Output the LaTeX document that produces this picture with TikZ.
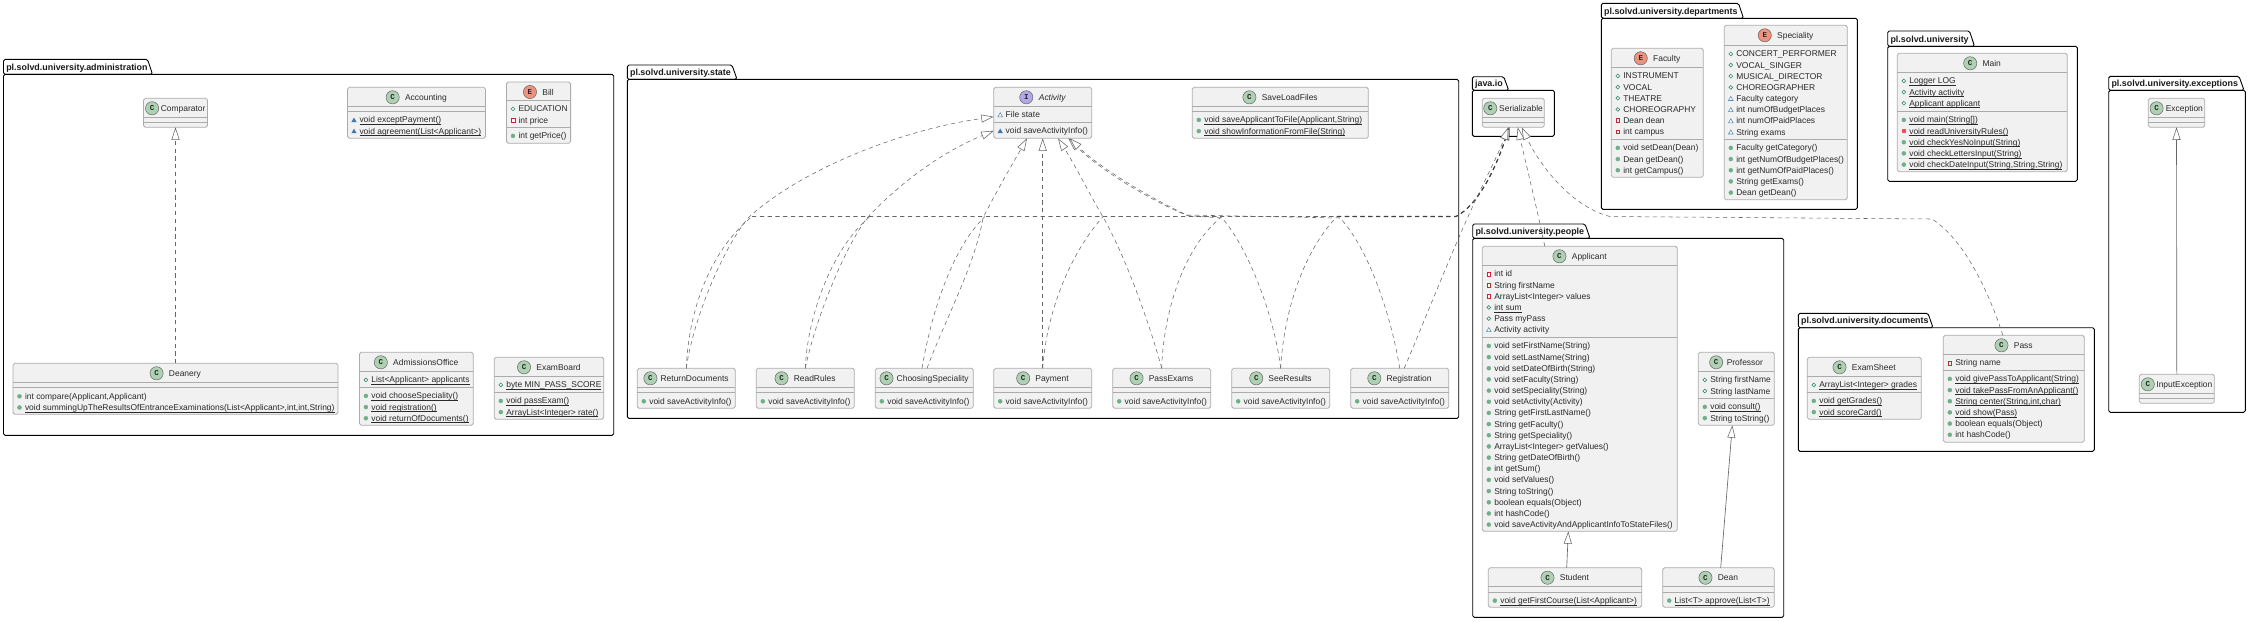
\documentclass[tikz,border=0pt]{standalone}
\usepackage{fontspec}
\setmainfont{Liberation Sans}
\newfontfamily\iconfamily{Liberation Mono}
\usetikzlibrary{arrows.meta}
\definecolor{cfill}{HTML}{F1F1F1}
\definecolor{cline}{HTML}{ABABAB}
\definecolor{ctext}{HTML}{2A2A2A}
\definecolor{cgreen}{HTML}{ADD1B2}
\definecolor{cred}{HTML}{EB937F}
\definecolor{cpurple}{HTML}{B4A7E5}
\definecolor{vgreenA}{HTML}{2E8B62}
\definecolor{vgreenB}{HTML}{6FB085}
\definecolor{vredA}{HTML}{C82930}
\definecolor{vredB}{HTML}{F24D5C}
\definecolor{vblueA}{HTML}{1963A0}
\definecolor{vblueB}{HTML}{4177AF}
\definecolor{cconn}{HTML}{666666}
\newcommand{\rowfont}{\fontsize{8.45}{10}\selectfont\color{ctext}}
\newcommand{\pkgfont}{\fontsize{8.9}{10}\selectfont\bfseries\color{black!90}}
\newcommand{\ulx}[1]{\setbox0\hbox{#1}\rlap{\color{ctext}\vrule width\wd0 height -1.2pt depth 1.6pt}\box0}
\tikzset{
 classbox/.style={draw=cline,fill=cfill,line width=.8pt,rounded corners=1.8pt,inner sep=0pt,outer sep=0pt},
 sepline/.style={draw=cline,line width=.8pt},
 pkgframe/.style={draw=black,line width=.9pt,rounded corners=1.6pt},
 pkglabel/.style={inner sep=0pt,anchor=base west,font=\pkgfont},
 rowlabel/.style={inner sep=0pt,anchor=base west,font=\rowfont},
 titlelabel/.style={inner sep=0pt,anchor=base,font=\rowfont},
 iconcircle/.style={circle,draw=black!60,line width=.5pt,minimum size=13.2pt,inner sep=0pt,text=black!85,font=\iconfamily\bfseries\fontsize{7.5}{8}\selectfont},
 depline/.style={draw=cconn,line width=.55pt,dash pattern=on 4.2pt off 3.6pt},
 dep/.style={depline,-{Triangle[fill=white,length=12.5pt,width=8pt,line width=.55pt,sep=0pt]}},
 gen/.style={draw=cconn,line width=.65pt,-{Triangle[fill=white,length=12.5pt,width=8pt,line width=.55pt]}}
}
\newcommand{\umlpkg}[8]{% name L tabtop bodytop R bottom tabend title
 \draw[pkgframe] (#2,#4) -- (#2,#3) -- (#7,#3) -- (#7+5,#4) -- cycle;
 \draw[pkgframe] (#2,#4) rectangle (#5,#6);
 \node[pkglabel] (#1-label) at (#2+2.6,#4-4.3) {#8};
}
\newcommand{\umlclass}[9]{% name x1 y1 x2 y2 colour letter gap title
 \pgfmathsetmacro{\boxw}{#4-#2}\pgfmathsetmacro{\boxh}{#5-#3}
 \node[classbox,minimum width=\boxw pt,minimum height=\boxh pt,anchor=north west] (#1) at (#2,#3) {};
 \pgfmathsetmacro{\titlec}{(#2+#4)/2+(13.4+#8)/2}
 \pgfmathsetmacro{\iconshift}{#8+6.7}
 \node[titlelabel] (#1-title) at (\titlec,#3+13) {#9};
 \node[iconcircle,fill=#6] (#1-icon) at ([xshift=-\iconshift pt,yshift=3pt]#1-title.base west) {#7};
}
\newcommand{\umlsep}[3]{\draw[sepline] (#1,#3) -- (#2,#3);}
\newcommand{\vispf}[2]{\draw[vgreenA,line width=.6pt,fill=white] (#1,#2) circle (1.9);}
\newcommand{\vispm}[2]{\draw[vgreenA!70!white,line width=.4pt,fill=vgreenB] (#1,#2) circle (2);}
\newcommand{\visrf}[2]{\draw[vredA,line width=.6pt,fill=white] (#1-1.9,#2-1.9) rectangle (#1+1.9,#2+1.9);}
\newcommand{\visrm}[2]{\fill[vredB] (#1-2.2,#2-2.2) rectangle (#1+2.2,#2+2.2);}
\newcommand{\visbf}[2]{\draw[vblueA!75!white,line width=.55pt,fill=white] (#1-2.3,#2+1.9) -- (#1+2.3,#2+1.9) -- (#1,#2-2.2) -- cycle;}
\newcommand{\visbm}[2]{\fill[vblueB] (#1-2.6,#2+2.1) -- (#1+2.6,#2+2.1) -- (#1,#2-2.4) -- cycle;}
\newcommand{\umlrows}[6]{% name section x1 x2 sepy list
 \umlsep{#3}{#4}{#5}
 \foreach \rowv/\rowt [count=\rowi from 0] in {#6}{
  \pgfmathsetmacro{\rowy}{#5+8.6+11.17*\rowi}
  \csname vis\rowv\endcsname{#3+6.5}{\rowy}
  \node[rowlabel] (#1-#2-\rowi) at (#3+11.8,\rowy+3) {\rowt};
 }
}
\begin{document}
\begin{tikzpicture}[x=1pt,y=-1pt]
\useasboundingbox (0,0) rectangle (2248,621);
% packages
\umlpkg{admin}{3.5}{59.3}{74.3}{613.7}{435.3}{147.5}{pl.solvd.university.administration}
\umlpkg{state}{627.3}{65}{79.3}{1458.7}{418.3}{732}{pl.solvd.university.state}
\umlpkg{javaio}{1472.3}{76.7}{90.3}{1554.3}{136.3}{1503.7}{java.io}
\umlpkg{people}{1472.7}{224}{238.3}{1783.7}{617.3}{1585}{pl.solvd.university.people}
\umlpkg{departments}{1601.3}{3.3}{18.3}{1857.3}{209.3}{1738.5}{pl.solvd.university.departments}
\umlpkg{university}{1887.7}{31}{46.3}{2077.3}{181.3}{1969.5}{pl.solvd.university}
\umlpkg{documents}{1798.3}{313.3}{327.7}{2094.3}{451.3}{1928}{pl.solvd.university.documents}
\umlpkg{exceptions}{2108.7}{76.3}{90.3}{2245.3}{412.3}{2239}{pl.solvd.university.exceptions}
% administration
\umlclass{Comparator}{143.5}{98.3}{207.5}{127.3}{cgreen}{C}{1.8}{Comparator}
\umlsep{143.5}{207.5}{117.3}\umlsep{143.5}{207.5}{122.5}
\umlclass{Accounting}{347.5}{87.3}{485.5}{138.3}{cgreen}{C}{5.5}{Accounting}
\umlsep{347.5}{485.5}{106.3}
\umlrows{Accounting}{M}{347.5}{485.5}{111.3}{bm/{\ulx{void exceptPayment()}},bm/{\ulx{void agreement(List<Applicant>)}}}
\umlclass{Bill}{506.5}{82}{570.6}{143.3}{cred}{E}{5.5}{Bill}
\umlrows{Bill}{F}{506.5}{570.6}{100.3}{pf/{EDUCATION},rf/{int price}}
\umlrows{Bill}{M}{506.5}{570.6}{127.3}{pm/{int getPrice()}}
\umlclass{Deanery}{13}{363.3}{338}{414.3}{cgreen}{C}{5.5}{Deanery}
\umlsep{13}{338}{382.3}
\umlrows{Deanery}{M}{13}{338}{387.7}{pm/{int compare(Applicant,Applicant)},pm/{\ulx{void summingUpTheResultsOfEntranceExaminations(List<Applicant>,int,int,String)}}}
\umlclass{AdmissionsOffice}{359.4}{352.3}{473.3}{425.3}{cgreen}{C}{5.5}{AdmissionsOffice}
\umlrows{AdmissionsOffice}{F}{359.4}{473.3}{371.3}{pf/{\ulx{List<Applicant> applicants}}}
\umlrows{AdmissionsOffice}{M}{359.4}{473.3}{387.3}{pm/{\ulx{void chooseSpeciality()}},pm/{\ulx{void registration()}},pm/{\ulx{void returnOfDocuments()}}}
\umlclass{ExamBoard}{494.3}{357.3}{603.8}{419.3}{cgreen}{C}{5.5}{ExamBoard}
\umlrows{ExamBoard}{F}{494.3}{603.8}{376.3}{pf/{\ulx{byte MIN\_PASS\_SCORE}}}
\umlrows{ExamBoard}{M}{494.3}{603.8}{392.3}{pm/{\ulx{void passExam()}},pm/{\ulx{ArrayList<Integer> rate()}}}
% state
\umlclass{Activity}{993.7}{87.3}{1091.7}{138.3}{cpurple}{I}{5.7}{\itshape Activity}
\umlrows{Activity}{F}{993.7}{1091.7}{106.3}{bf/{File state}}
\umlrows{Activity}{M}{993.7}{1091.7}{122.3}{bm/{void saveActivityInfo()}}
\umlclass{SaveLoadFiles}{1192.3}{87.3}{1368.3}{138.3}{cgreen}{C}{5.5}{SaveLoadFiles}
\umlsep{1192.3}{1368.3}{106.3}
\umlrows{SaveLoadFiles}{M}{1192.3}{1368.3}{111.3}{pm/{\ulx{void saveApplicantToFile(Applicant,String)}},pm/{\ulx{void showInformationFromFile(String)}}}
\foreach \cname/\cx/\cgap in {ReturnDocuments/637.3/3.3,ReadRules/756.3/5.3,ChoosingSpeciality/875.3/3.3,Payment/993.7/5.3,PassExams/1112.7/5.3,SeeResults/1231.7/5.3,Registration/1350.7/5.3}{
 \pgfmathsetmacro{\cxr}{\cx+98}
 \umlclass{\cname}{\cx}{368.3}{\cxr}{408.3}{cgreen}{C}{\cgap}{\cname}
 \umlsep{\cx}{\cxr}{387.3}
 \umlrows{\cname}{M}{\cx}{\cxr}{392.7}{pm/{void saveActivityInfo()}}
}
% java.io
\umlclass{Serializable}{1482.3}{98.3}{1544.3}{127.3}{cgreen}{C}{2}{Serializable}
\umlsep{1482.3}{1544.3}{117.5}\umlsep{1482.3}{1544.3}{122.7}
% people
\umlclass{Applicant}{1482.3}{246.3}{1677.3}{531.3}{cgreen}{C}{5.5}{Applicant}
\umlrows{Applicant}{F}{1482.3}{1677.3}{265.3}{rf/{int id},rf/{String firstName},rf/{ArrayList<Integer> values},pf/{\ulx{int sum}},pf/{Pass myPass},bf/{Activity activity}}
\umlrows{Applicant}{M}{1482.3}{1677.3}{337.3}{pm/{void setFirstName(String)},pm/{void setLastName(String)},pm/{void setDateOfBirth(String)},pm/{void setFaculty(String)},pm/{void setSpeciality(String)},pm/{void setActivity(Activity)},pm/{String getFirstLastName()},pm/{String getFaculty()},pm/{String getSpeciality()},pm/{ArrayList<Integer> getValues()},pm/{String getDateOfBirth()},pm/{int getSum()},pm/{void setValues()},pm/{String toString()},pm/{boolean equals(Object)},pm/{int hashCode()},pm/{void saveActivityAndApplicantInfoToStateFiles()}}
\umlclass{Professor}{1698.3}{352.3}{1774.3}{425.3}{cgreen}{C}{3.7}{Professor}
\umlrows{Professor}{F}{1698.3}{1774.3}{371.3}{pf/{String firstName},pf/{String lastName}}
\umlrows{Professor}{M}{1698.3}{1774.3}{398.3}{pm/{\ulx{void consult()}},pm/{String toString()}}
\umlclass{Student}{1488.3}{567.7}{1641.7}{607.3}{cgreen}{C}{5.5}{Student}
\umlsep{1488.3}{1641.7}{586.7}
\umlrows{Student}{M}{1488.3}{1641.7}{592}{pm/{\ulx{void getFirstCourse(List<Applicant>)}}}
\umlclass{Dean}{1662.7}{567.7}{1774.3}{607.3}{cgreen}{C}{5.5}{Dean}
\umlsep{1662.7}{1774.3}{586.7}
\umlrows{Dean}{M}{1662.7}{1774.3}{592}{pm/{\ulx{List<T> approve(List<T>)}}}
% departments
\umlclass{Faculty}{1611.3}{48.3}{1703.3}{177.3}{cred}{E}{5.5}{Faculty}
\umlrows{Faculty}{F}{1611.3}{1703.3}{67.3}{pf/{INSTRUMENT},pf/{VOCAL},pf/{THEATRE},pf/{CHOREOGRAPHY},rf/{Dean dean},rf/{int campus}}
\umlrows{Faculty}{M}{1611.3}{1703.3}{139.3}{pm/{void setDean(Dean)},pm/{Dean getDean()},pm/{int getCampus()}}
\umlclass{Speciality}{1724.3}{25.3}{1847.3}{199.7}{cred}{E}{5.5}{Speciality}
\umlrows{Speciality}{F}{1724.3}{1847.3}{45.3}{pf/{CONCERT\_PERFORMER},pf/{VOCAL\_SINGER},pf/{MUSICAL\_DIRECTOR},pf/{CHOREOGRAPHER},bf/{Faculty category},bf/{int numOfBudgetPlaces},bf/{int numOfPaidPlaces},bf/{String exams}}
\umlrows{Speciality}{M}{1724.3}{1847.3}{139.3}{pm/{Faculty getCategory()},pm/{int getNumOfBudgetPlaces()},pm/{int getNumOfPaidPlaces()},pm/{String getExams()},pm/{Dean getDean()}}
% university
\umlclass{Main}{1897.3}{53.3}{2067.3}{171.7}{cgreen}{C}{5.5}{Main}
\umlrows{Main}{F}{1897.3}{2067.3}{72.3}{pf/{\ulx{Logger LOG}},pf/{\ulx{Activity activity}},pf/{\ulx{Applicant applicant}}}
\umlrows{Main}{M}{1897.3}{2067.3}{111.3}{pm/{\ulx{void main(String[])}},rm/{\ulx{void readUniversityRules()}},pm/{\ulx{void checkYesNoInput(String)}},pm/{\ulx{void checkLettersInput(String)}},pm/{\ulx{void checkDateInput(String,String,String)}}}
% documents
\umlclass{ExamSheet}{1807.3}{357.3}{1921.3}{419.3}{cgreen}{C}{5.5}{ExamSheet}
\umlrows{ExamSheet}{F}{1807.3}{1921.3}{376.3}{pf/{\ulx{ArrayList<Integer> grades}}}
\umlrows{ExamSheet}{M}{1807.3}{1921.3}{392.3}{pm/{\ulx{void getGrades()}},pm/{\ulx{void scoreCard()}}}
\umlclass{Pass}{1943.3}{335.3}{2084.3}{442.3}{cgreen}{C}{5.5}{Pass}
\umlrows{Pass}{F}{1943.3}{2084.3}{354.3}{rf/{String name}}
\umlrows{Pass}{M}{1943.3}{2084.3}{370.3}{pm/{\ulx{void givePassToApplicant(String)}},pm/{\ulx{void takePassFromAnApplicant()}},pm/{\ulx{String center(String,int,char)}},pm/{\ulx{void show(Pass)}},pm/{boolean equals(Object)},pm/{int hashCode()}}
% exceptions
\umlclass{Exception}{2148.3}{98.3}{2204.7}{127.3}{cgreen}{C}{2.3}{Exception}
\umlsep{2148.3}{2204.7}{117.3}\umlsep{2148.3}{2204.7}{122.7}
\umlclass{InputException}{2139.3}{374.3}{2214.3}{403.3}{cgreen}{C}{1.7}{InputException}
\umlsep{2139.3}{2214.3}{393.3}\umlsep{2139.3}{2214.3}{398.7}
% simple connectors
\draw[dep] (Deanery.north) -- (Comparator.south);
\draw[gen] ([xshift=1.7pt]Student.north) -- ([xshift=-11.5pt]Applicant.south);
\draw[gen] ([xshift=2.2pt]Dean.north) -- ([xshift=-4pt]Professor.south);
\draw[gen] (InputException.north) -- (Exception.south);
% Activity realisations
\draw[dep] (ReturnDocuments.north) .. controls (693,320) and (722,250) .. (748,218) .. controls (800,170) and (900,130) .. ([yshift=-4pt]Activity.west);
\draw[dep] (ReadRules.north) .. controls (815,320) and (845,247) .. (867,218) .. controls (893,190) and (935,155) .. ([yshift=-18pt]Activity.west);
\draw[dep] ([xshift=2.7pt]ChoosingSpeciality.north) .. controls (945,320) and (975,265) .. (983,218) .. controls (997,190) and (1012,165) .. ([xshift=-15.7pt]Activity.south);
\draw[dep] (Payment.north) -- (Activity.south);
\draw[dep] (PassExams.north) .. controls (1150,325) and (1125,255) .. (1103,217) .. controls (1090,195) and (1075,165) .. ([xshift=15.3pt]Activity.south);
\draw[dep] (SeeResults.north) .. controls (1275,320) and (1250,250) .. (1222,218) -- (1187,215.5) .. controls (1150,200) and (1100,170) .. ([xshift=25.6pt]Activity.south);
\draw[dep] (Registration.north) .. controls (1392,320) and (1370,250) .. (1340,218) -- (1187,215) .. controls (1150,198) and (1100,168) .. ([xshift=27pt]Activity.south);
% Serializable realisations: branches join a shared trunk
\coordinate (kReturn) at (752,216.5);
\coordinate (kRules) at (870,216.5);
\coordinate (kChoose) at (985,216.5);
\coordinate (kPay) at (1103,216.5);
\coordinate (kPass) at (1222,216.5);
\coordinate (kSee) at (1337,216.5);
\coordinate (kEnd) at (1456,216.5);
\draw[depline] (ReturnDocuments.north) .. controls (688,320) and (705,255) .. (kReturn);
\draw[depline] (ReadRules.north) .. controls (807,320) and (830,250) .. (kRules);
\draw[depline] ([xshift=-2.3pt]ChoosingSpeciality.north) .. controls (930,320) and (950,250) .. (kChoose);
\draw[depline] (Payment.north) .. controls (1046,320) and (1065,260) .. (kPay);
\draw[depline] (PassExams.north) .. controls (1163,320) and (1180,250) .. (kPass);
\draw[depline] (SeeResults.north) .. controls (1283,320) and (1300,255) .. (kSee);
\draw[dep] (kReturn) -- (kEnd) .. controls (1478,205) and (1495,170) .. ([xshift=-4pt]Serializable.south);
\draw[dep,line width=.8pt] (kPay) -- (kEnd) .. controls (1478,205) and (1495,170) .. ([xshift=-4pt]Serializable.south);
\draw[dep,line width=1.1pt,draw=black!75] (kSee) -- (kEnd) .. controls (1478,205) and (1495,170) .. ([xshift=-4pt]Serializable.south);
\draw[dep] ([xshift=4.5pt]Registration.north) .. controls (1425,320) and (1450,255) .. (1477,197) .. controls (1490,170) and (1500,150) .. ([xshift=-5pt]Serializable.south);
\draw[dep] ([xshift=-35pt]Applicant.north) .. controls (1535,200) and (1525,160) .. ([xshift=4.4pt]Serializable.south);
\draw[dep] ([xshift=-11pt]Pass.north) .. controls (1990,295) and (1965,240) .. (1932,219) -- (1610,216.5) .. controls (1575,208) and (1542,170) .. ([xshift=8.4pt]Serializable.south);
\end{tikzpicture}
\end{document}
